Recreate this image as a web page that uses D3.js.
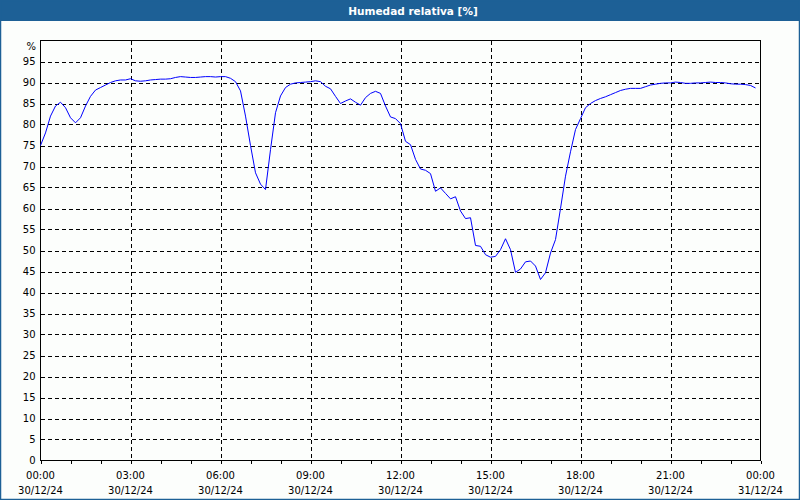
<!DOCTYPE html>
<html><head><meta charset="utf-8">
<script src="https://cdn.jsdelivr.net/npm/d3@7"></script>
<style>html,body{margin:0;padding:0;background:#fcfefc;}svg{display:block;}</style>
</head><body>
<svg id="c" width="800" height="500"></svg>
<script>
// 10-minute samples from 00:00 to 23:50 on 30/12/24
const humidity = [
 75.0,78.0,82.0,84.4,85.3,84.0,81.6,80.4,81.6,84.4,86.7,88.2,
 88.8,89.4,90.0,90.4,90.6,90.6,90.9,90.4,90.3,90.4,90.6,90.7,
 90.8,90.8,90.9,91.2,91.4,91.3,91.2,91.2,91.3,91.4,91.4,91.3,
 91.4,91.4,91.0,90.2,88.0,82.0,75.0,68.5,65.8,64.5,74.0,82.8,
 86.8,88.8,89.6,89.9,90.0,90.1,90.2,90.4,90.2,89.1,88.5,86.7,
 85.0,85.6,86.1,85.3,84.6,86.4,87.4,87.9,87.4,84.4,81.8,81.4,
 80.2,76.0,75.2,71.7,69.4,69.1,68.3,64.1,64.9,63.6,62.3,62.8,
 59.4,57.6,57.8,51.2,51.0,49.0,48.4,48.6,50.2,52.8,50.2,44.8,
 45.6,47.3,47.5,46.3,43.1,44.7,49.4,52.6,60.0,67.7,73.5,78.8,
 81.4,84.0,85.0,85.7,86.2,86.6,87.1,87.6,88.1,88.4,88.6,88.6,
 88.6,89.0,89.4,89.6,89.8,89.9,89.9,90.1,90.0,89.8,89.8,89.9,
 89.9,90.0,90.1,90.0,90.0,89.9,89.7,89.6,89.6,89.5,89.3,88.7
];
const startTime = new Date(2024, 11, 30, 0, 0);
const endTime = new Date(2024, 11, 31, 0, 0);
const stepMinutes = 10;
const yTicks = [0,5,10,15,20,25,30,35,40,45,50,55,60,65,70,75,80,85,90,95];
const title = "Humedad relativa [%]";
const unitLabel = "%";

const svg = d3.select("#c");
const W = 800, H = 500;
const frameColor = "#1d6096";

svg.append("rect").attr("x",0).attr("y",0).attr("width",W).attr("height",H).attr("fill","#fcfefc");
svg.append("rect").attr("x",0).attr("y",0).attr("width",W).attr("height",21).attr("fill",frameColor);
svg.append("rect").attr("x",0.5).attr("y",0.5).attr("width",W-1).attr("height",H-1)
  .attr("fill","none").attr("stroke",frameColor).attr("stroke-width",1.5);
svg.append("text").attr("x",413).attr("y",14.5).attr("text-anchor","middle")
  .attr("font-family","DejaVu Sans").attr("font-weight","bold").attr("font-size",10.5)
  .attr("fill","#ffffff").text(title);

const L = 40.5, R = 760.5, T = 40.5, B = 460.5;
const x = d3.scaleTime().domain([startTime, endTime]).range([L, R]);
const y = d3.scaleLinear().domain([0, 100]).range([B, T]);

const g = svg.append("g");
// horizontal grid
g.selectAll("line.hg").data(yTicks.filter(d=>d>0)).join("line")
  .attr("x1",L).attr("x2",R).attr("y1",d=>Math.round(y(d))+0.5).attr("y2",d=>Math.round(y(d))+0.5)
  .attr("stroke","#000").attr("stroke-width",1).attr("stroke-dasharray","4,3").attr("shape-rendering","crispEdges");
// vertical grid every 3 hours
const majorTicks = d3.timeHour.every(3).range(startTime, endTime).slice(1);
g.selectAll("line.vg").data(majorTicks).join("line")
  .attr("x1",d=>Math.round(x(d))+0.5).attr("x2",d=>Math.round(x(d))+0.5).attr("y1",T).attr("y2",B)
  .attr("stroke","#000").attr("stroke-width",1).attr("stroke-dasharray","4,3").attr("shape-rendering","crispEdges");

// plot frame
svg.append("rect").attr("x",L).attr("y",T).attr("width",R-L).attr("height",B-T)
  .attr("fill","none").attr("stroke","#000").attr("stroke-width",1).attr("shape-rendering","crispEdges");

// axes
const fmtT = d3.timeFormat("%H:%M"), fmtD = d3.timeFormat("%d/%m/%y");
const xAxis = d3.axisBottom(x).ticks(d3.timeHour.every(1)).tickSize(3).tickFormat("");
const xa = svg.append("g").attr("transform",`translate(0,${B})`).call(xAxis);
xa.select(".domain").remove();
xa.selectAll(".tick line").attr("stroke","#000").attr("shape-rendering","crispEdges");

const labelTicks = d3.timeHour.every(3).range(startTime, d3.timeMinute.offset(endTime,1));
const xl = svg.append("g").attr("font-family","DejaVu Sans").attr("font-size",10).attr("fill","#000");
xl.selectAll("text.t").data(labelTicks).join("text")
  .attr("x",d=>x(d)).attr("y",479).attr("text-anchor","middle").text(d=>fmtT(d));
xl.selectAll("text.d").data(labelTicks).join("text")
  .attr("x",d=>x(d)).attr("y",494).attr("text-anchor","middle").text(d=>fmtD(d));

const yAxis = d3.axisLeft(y).tickValues(yTicks).tickSize(0).tickPadding(5);
const ya = svg.append("g").attr("transform",`translate(${L},0)`).call(yAxis);
ya.select(".domain").remove();
ya.selectAll("text").attr("font-family","DejaVu Sans").attr("font-size",10).attr("fill","#000");
svg.append("text").attr("x",36).attr("y",49.5).attr("text-anchor","end")
  .attr("font-family","DejaVu Sans").attr("font-size",10).attr("fill","#000").text(unitLabel);

// line
const data = humidity.map((v,i)=>({t:d3.timeMinute.offset(startTime,i*stepMinutes), v}));
const line = d3.line().x(d=>x(d.t)).y(d=>y(d.v));
svg.append("path").datum(data).attr("d",line).attr("fill","none")
  .attr("stroke","#0000ff").attr("stroke-width",1);
</script>
</body></html>
